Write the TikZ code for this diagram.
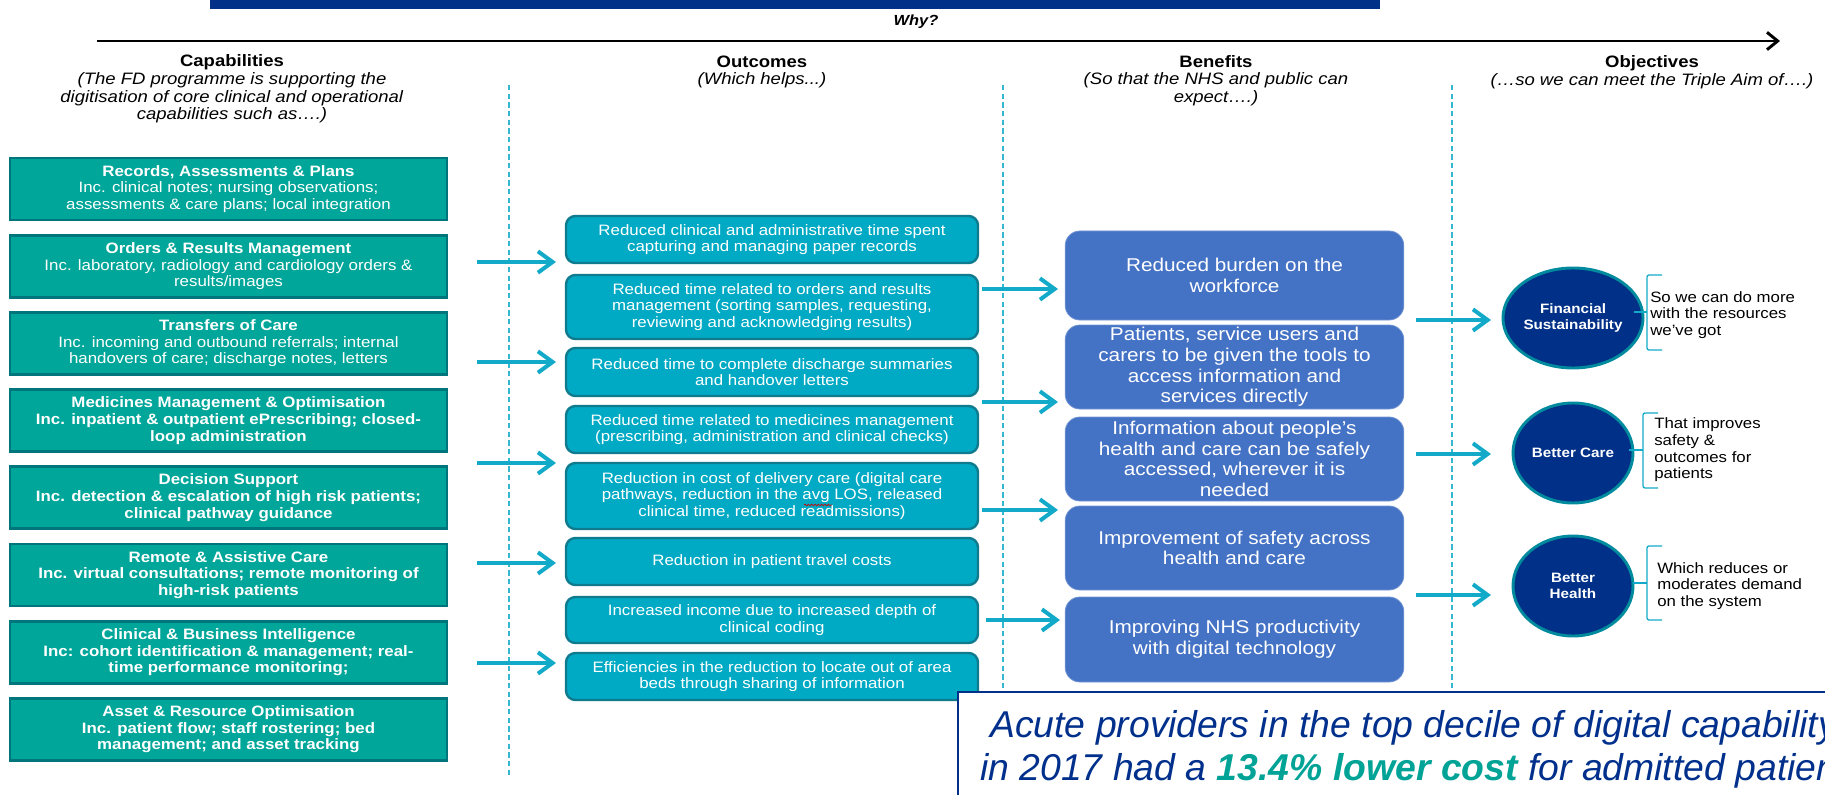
\documentclass[tikz,border=0pt]{standalone}
\usepackage{fontspec}
\setmainfont{Liberation Sans}
\newfontfamily\nfont{Liberation Sans}[FakeStretch=1.12]
\usepackage{tikz}
\usetikzlibrary{shapes.geometric,arrows.meta,decorations.pathmorphing}
\usepackage{xcolor}
\definecolor{capfill}{RGB}{0,166,153}
\definecolor{capline}{RGB}{0,118,124}
\definecolor{outfill}{RGB}{0,170,196}
\definecolor{outline}{RGB}{16,122,142}
\definecolor{benfill}{RGB}{68,114,196}
\definecolor{objfill}{RGB}{0,48,135}
\definecolor{objline}{RGB}{0,138,158}
\definecolor{flowcol}{RGB}{18,170,200}
\definecolor{navytext}{RGB}{0,48,140}
\definecolor{tealtext}{RGB}{0,163,150}

\begin{document}
\begin{tikzpicture}[x=0.75pt,y=-0.75pt]
    %styles
    \tikzstyle{capab}=[rectangle,draw=capline,line width=2pt,fill=capfill,text=white,align=center,
        minimum width=327.75pt,minimum height=46.5pt,inner sep=1pt,font=\nfont\fontsize{11.3}{12.5}\selectfont]
    \tikzstyle{outc}=[rectangle,rounded corners=7pt,draw=outline,line width=1.8pt,fill=outfill,text=white,align=center,
        minimum width=309pt,inner sep=1pt,font=\nfont\fontsize{11.3}{12.5}\selectfont]
    \tikzstyle{benef}=[rectangle,rounded corners=11pt,draw=benfill!75!white,line width=0.6pt,fill=benfill,text=white,align=center,
        minimum width=254pt,minimum height=63pt,inner sep=0pt,font=\nfont\fontsize{13.9}{15.5}\selectfont]
    \tikzstyle{objective}=[ellipse,draw=objline,line width=2.2pt,fill=objfill,text=white,align=center,
        minimum width=90pt,minimum height=75pt,inner sep=0pt,font=\nfont\bfseries\fontsize{10.2}{12.5}\selectfont]
    \tikzstyle{head}=[align=center,inner sep=0pt,font=\nfont\fontsize{12.4}{13.2}\selectfont]
    \tikzstyle{aim}=[align=left,anchor=west,inner sep=0pt,font=\nfont\fontsize{11.25}{12.5}\selectfont]
    \tikzstyle{flow}=[-{Straight Barb[length=11pt,width=16pt]},line width=3pt,flowcol]
    \tikzstyle{mainarr}=[-{Straight Barb[length=8pt,width=13pt]},line width=2.2pt,black]
    \tikzstyle{divider}=[flowcol!85!white,line width=1.1pt,dash pattern=on 4pt off 2.5pt]
    \tikzstyle{brack}=[flowcol,line width=1pt,rounded corners=1.5pt]
    \tikzstyle{notetext}=[anchor=base west,inner sep=0pt,text=navytext,font=\itshape\fontsize{28}{34}\selectfont]

    \clip (0,0) rectangle (1825,795);

    %banner and why arrow
    \fill[objfill] (210,0) rectangle (1380,9);
    \node[head,font=\nfont\bfseries\itshape\fontsize{11}{13}\selectfont] (why) at (916,22) {Why?};
    \coordinate (wfrom) at (97,41);
    \coordinate (wto) at (1780,41);
    \draw[mainarr] (wfrom)--(wto);

    %column headers
    \node[head] (hcap) at (232,89) {\textbf{Capabilities}\\ \textit{(The FD programme is supporting the}\\
        \textit{digitisation of core clinical and operational}\\ \textit{capabilities such as….)}};
    \node[head] (hout) at (762,72) {\textbf{Outcomes}\\ \textit{(Which helps...)}};
    \node[head] (hben) at (1216,80.5) {\textbf{Benefits}\\ \textit{(So that the NHS and public can}\\ \textit{expect….)}};
    \node[head] (hobj) at (1652,72) {\textbf{Objectives}\\ \textit{(…so we can meet the Triple Aim of….)}};

    %dividers
    \draw[divider] (509,85)--(509,775);
    \draw[divider] (1003,85)--(1003,775);
    \draw[divider] (1452,85)--(1452,775);

    %capabilities
    \node[capab] (c1) at (228.5,189) {\textbf{Records, Assessments \& Plans}\\Inc. clinical notes; nursing observations;\\assessments \& care plans; local integration};
    \node[capab] (c2) at (228.5,266.2) {\textbf{Orders \& Results Management}\\Inc. laboratory, radiology and cardiology orders \&\\results/images};
    \node[capab] (c3) at (228.5,343.4) {\textbf{Transfers of Care}\\Inc. incoming and outbound referrals; internal\\handovers of care; discharge notes, letters};
    \node[capab] (c4) at (228.5,420.6) {\bfseries Medicines Management \& Optimisation\\\bfseries Inc. inpatient \& outpatient ePrescribing; closed-\\\bfseries loop administration};
    \node[capab] (c5) at (228.5,497.8) {\bfseries Decision Support\\\bfseries Inc. detection \& escalation of high risk patients;\\\bfseries clinical pathway guidance};
    \node[capab] (c6) at (228.5,575) {\bfseries Remote \& Assistive Care\\\bfseries Inc. virtual consultations; remote monitoring of\\\bfseries high-risk patients};
    \node[capab] (c7) at (228.5,652.2) {\bfseries Clinical \& Business Intelligence\\\bfseries Inc: cohort identification \& management; real-\\\bfseries time performance monitoring;};
    \node[capab] (c8) at (228.5,729.4) {\bfseries Asset \& Resource Optimisation\\\bfseries Inc. patient flow; staff rostering; bed\\\bfseries management; and asset tracking};

    %outcomes
    \node[outc,minimum height=35.25pt] (o1) at (772,239.5) {Reduced clinical and administrative time spent\\capturing and managing paper records};
    \node[outc,minimum height=48pt] (o2) at (772,307) {Reduced time related to orders and results\\management (sorting samples, requesting,\\reviewing and acknowledging results)};
    \node[outc,minimum height=36pt] (o3) at (772,372) {Reduced time to complete discharge summaries\\and handover letters};
    \node[outc,minimum height=35.25pt] (o4) at (772,429.5) {Reduced time related to medicines management\\(prescribing, administration and clinical checks)};
    \node[outc,minimum height=49.5pt] (o5) at (772,496) {Reduction in cost of delivery care (digital care\\pathways, reduction in the avg LOS, released\\clinical time, reduced readmissions)};
    \node[outc,minimum height=35.25pt] (o6) at (772,561.5) {Reduction in patient travel costs};
    \node[outc,minimum height=34.5pt] (o7) at (772,620) {Increased income due to increased depth of\\clinical coding};
    \node[outc,minimum height=35.25pt] (o8) at (772,676.5) {Efficiencies in the reduction to locate out of area\\beds through sharing of information};
    % spell-check squiggle under "avg"
    \draw[red!80!black,line width=0.5pt,decorate,decoration={snake,amplitude=0.6pt,segment length=2.5pt}] (804,505)--(832,505);

    %benefits
    \node[benef,minimum height=66.75pt] (b1) at (1234.5,275.5) {Reduced burden on the\\workforce};
    \node[benef] (b2) at (1234.5,367) {Patients, service users and\\carers to be given the tools to\\access information and\\services directly};
    \node[benef] (b3) at (1234.5,459) {Information about people’s\\health and care can be safely\\accessed, wherever it is\\needed};
    \node[benef] (b4) at (1234.5,548) {Improvement of safety across\\health and care};
    \node[benef,minimum height=63.75pt] (b5) at (1234.5,639.5) {Improving NHS productivity\\with digital technology};

    %objectives
    \node[objective] (fin) at (1573,318) {Financial\\Sustainability};
    \node[objective] (care) at (1573,453) {Better Care};
    \node[objective] (health) at (1573,586) {Better\\Health};

    \draw[brack] (1662,275)--(1647,275)--(1647,350)--(1662,350);
    \draw[brack] (1647,312)--(1634,312);
    \draw[brack] (1658,413)--(1643,413)--(1643,488)--(1658,488);
    \draw[brack] (1643,450)--(1629,450);
    \draw[brack] (1662,546)--(1647,546)--(1647,620)--(1662,620);
    \draw[brack] (1647,583)--(1633,583);
    \node[aim] (aim1) at (1650,315) {So we can do more\\with the resources\\we’ve got};
    \node[aim] (aim2) at (1654,450) {That improves\\safety \&\\outcomes for\\patients};
    \node[aim] (aim3) at (1657,586) {Which reduces or\\moderates demand\\on the system};

    %arraws
    \coordinate (l1) at (477,262); \coordinate (r1) at (556,262);
    \coordinate (l2) at (477,362); \coordinate (r2) at (556,362);
    \coordinate (l3) at (477,463); \coordinate (r3) at (556,463);
    \coordinate (l4) at (477,563); \coordinate (r4) at (556,563);
    \coordinate (l5) at (477,663); \coordinate (r5) at (556,663);
    \draw[flow] (l1)--(r1);
    \draw[flow] (l2)--(r2);
    \draw[flow] (l3)--(r3);
    \draw[flow] (l4)--(r4);
    \draw[flow] (l5)--(r5);

    \coordinate (m1) at (982,289); \coordinate (n1) at (1058,289);
    \coordinate (m2) at (982,402); \coordinate (n2) at (1058,402);
    \coordinate (m3) at (982,510); \coordinate (n3) at (1058,510);
    \coordinate (m4) at (986,620); \coordinate (n4) at (1060,620);
    \draw[flow] (m1)--(n1);
    \draw[flow] (m2)--(n2);
    \draw[flow] (m3)--(n3);
    \draw[flow] (m4)--(n4);

    \coordinate (p1) at (1416,320); \coordinate (q1) at (1491,320);
    \coordinate (p2) at (1416,454); \coordinate (q2) at (1491,454);
    \coordinate (p3) at (1416,595); \coordinate (q3) at (1491,595);
    \draw[flow] (p1)--(q1);
    \draw[flow] (p2)--(q2);
    \draw[flow] (p3)--(q3);

    %note box
    \draw[draw=objfill,fill=white,line width=1.5pt] (958,692) rectangle (1860,830);
    \node[notetext] (note1) at (990,737) {Acute providers in the top decile of digital capability};
    \node[notetext] (note2) at (980,780) {in 2017 had a \textcolor{tealtext}{\bfseries 13.4\% lower cost} for admitted patients};
\end{tikzpicture}
\end{document}
